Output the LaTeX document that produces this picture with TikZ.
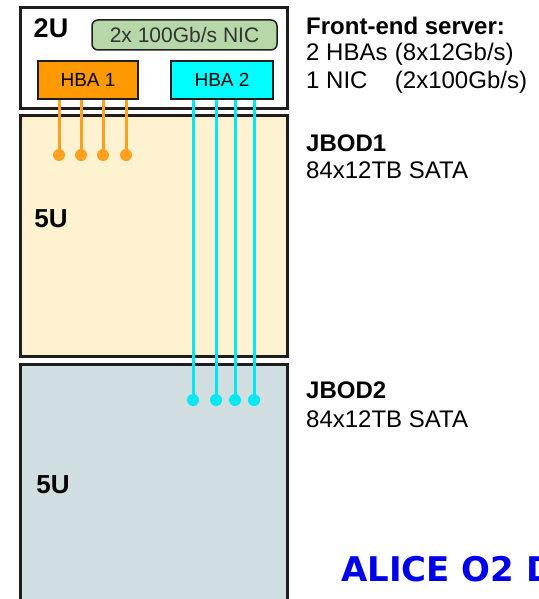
\documentclass[tikz,border=0pt]{standalone}
\usepackage{fontspec}
\setmainfont{Liberation Sans}
\newfontfamily\titlefont{DejaVu Sans}
\usetikzlibrary{positioning,calc}
\definecolor{FrameColor}{RGB}{30,30,30}
\definecolor{HbaOrange}{RGB}{255,153,0}
\definecolor{HbaCyan}{RGB}{0,255,255}
\definecolor{LinkOrange}{RGB}{255,160,30}
\definecolor{LinkCyan}{RGB}{0,232,240}
\definecolor{JbodOneFill}{RGB}{255,242,208}
\definecolor{JbodTwoFill}{RGB}{208,222,226}
\definecolor{NicGreen}{RGB}{182,215,168}
\definecolor{TitleBlue}{RGB}{0,0,235}
\tikzset{
  rackbox/.style={draw=FrameColor, line width=3pt, inner sep=0pt},
  hbabox/.style={draw=FrameColor, line width=1.8pt, inner sep=0pt, minimum width=100pt, minimum height=38pt, font=\fontsize{19}{22}\selectfont},
  unitlbl/.style={font=\fontsize{27}{30}\selectfont\bfseries},
  infotext/.style={anchor=base west, inner sep=0pt, font=\fontsize{24}{28}\selectfont},
  portdot/.style={circle, inner sep=0pt, minimum size=12pt}
}
\begin{document}
\begin{tikzpicture}[x=1pt, y=-1pt]
  \useasboundingbox (0,0) rectangle (538,599);
  \clip (0,0) rectangle (538,599);
  % racks
  \node[rackbox, fill=JbodTwoFill, minimum width=267pt, minimum height=256pt] (jbod2) at (153.5,492) {};
  \node[rackbox, fill=JbodOneFill, minimum width=267pt, minimum height=240pt] (jbod1) at (153.5,236) {};
  \node[rackbox, fill=white, minimum width=267pt, minimum height=101pt] (server) at (153.5,58.5) {};
  \node[draw=FrameColor, line width=1.5pt, fill=NicGreen, rounded corners=6pt, minimum width=185pt, minimum height=30pt, inner sep=0pt, font=\fontsize{21}{22}\selectfont, text=black!80] (nic) at (184.5,35) {2x 100Gb/s NIC};
  \node[hbabox, fill=HbaOrange] (hba1) at (88,80) {HBA 1};
  \node[hbabox, fill=HbaCyan, minimum width=102pt] (hba2) at (222,80) {HBA 2};
  % unit labels
  \node[unitlbl] (u2) at (51,28) {2U};
  \node[unitlbl, font=\fontsize{26}{30}\selectfont\bfseries] (u5a) at (51,219) {5U};
  \node[unitlbl, font=\fontsize{26}{30}\selectfont\bfseries] (u5b) at (53,485) {5U};
  % SAS links
  \foreach \x [count=\i] in {59,81,103,126} {
    \node[portdot, fill=LinkOrange] (oa\i) at (\x,155) {};
    \draw[LinkOrange, line width=3pt] (hba1.south -| oa\i) -- (oa\i.center);
  }
  \foreach \x [count=\i] in {193,216,235,254} {
    \node[portdot, fill=LinkCyan] (cb\i) at (\x,400) {};
    \draw[LinkCyan, line width=3pt] (hba2.south -| cb\i) -- (cb\i.center);
  }
  % descriptions
  \node[infotext] (srvhead) at (306,35) {\textbf{Front-end server:}};
  \node[infotext] (hbacount) at (306,61) {2 HBAs};
  \node[infotext, right=7pt of hbacount.base east, anchor=base west] (hbarate) {(8x12Gb/s)};
  \node[infotext] (niccount) at (306,89) {1 NIC};
  \node[infotext] (nicrate) at (hbarate.base west |- niccount.base) {(2x100Gb/s)};
  \node[infotext] (j1head) at (306,151) {\textbf{JBOD1}};
  \node[infotext] (j1disk) at (306,178) {84x12TB SATA};
  \node[infotext] (j2head) at (306,398) {\textbf{JBOD2}};
  \node[infotext] (j2disk) at (306,427) {84x12TB SATA};
  \node[anchor=base west, inner sep=0pt, text=TitleBlue, font=\titlefont\fontsize{34}{40}\selectfont\bfseries] (title) at (341,581) {ALICE O2 D};
\end{tikzpicture}
\end{document}
